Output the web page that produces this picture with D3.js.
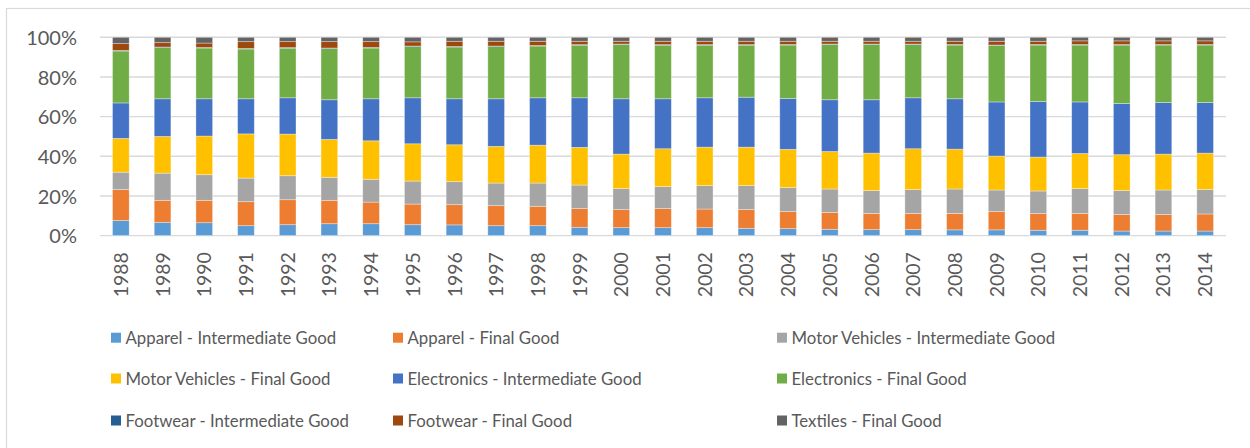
<!DOCTYPE html>
<html>
<head>
<meta charset="utf-8">
<script src="https://cdn.jsdelivr.net/npm/d3@7"></script>
<style>
  html, body { margin: 0; padding: 0; background: #fff; }
  svg { display: block; font-family: Lato, "Open Sans", sans-serif; }
</style>
</head>
<body>
<svg id="chart" width="1250" height="448"></svg>
<script>
const years = ["1988","1989","1990","1991","1992","1993","1994","1995","1996","1997","1998","1999","2000","2001","2002","2003","2004","2005","2006","2007","2008","2009","2010","2011","2012","2013","2014"];

const seriesNames = [
  "Apparel - Intermediate Good",
  "Apparel - Final Good",
  "Motor Vehicles - Intermediate Good",
  "Motor Vehicles - Final Good",
  "Electronics - Intermediate Good",
  "Electronics - Final Good",
  "Footwear - Intermediate Good",
  "Footwear - Final Good",
  "Textiles - Final Good"
];

const apparelIntermediate = [7.6,6.7,6.5,5.0,5.5,6.0,6.0,5.5,5.4,5.0,5.0,4.2,4.0,4.0,4.0,3.7,3.5,3.2,3.0,3.0,2.9,2.9,2.7,2.7,2.3,2.3,2.3];
const apparelFinal = [15.6,11.1,11.3,12.1,12.6,11.8,10.9,10.4,10.2,10.1,9.8,9.4,9.1,9.6,9.4,9.4,8.6,8.4,8.2,8.2,8.3,9.2,8.4,8.5,8.3,8.3,8.6];
const motorIntermediate = [8.8,13.7,12.9,11.9,12.1,11.6,11.5,11.6,11.6,11.4,11.7,11.9,10.6,11.1,11.8,12.1,12.1,11.9,11.5,12.0,12.3,10.9,11.4,12.5,12.1,12.4,12.4];
const motorFinal = [17.0,18.5,19.5,22.3,21.0,19.1,19.4,18.8,18.6,18.5,19.1,19.0,17.4,19.1,19.4,19.4,19.3,18.9,18.9,20.6,20.1,17.1,17.1,17.7,18.1,18.1,18.3];
const electronicsIntermediate = [17.9,19.0,18.8,17.7,18.3,20.0,21.2,23.2,23.2,24.0,23.9,25.0,27.9,25.2,24.9,25.2,25.6,26.1,26.9,25.7,25.4,27.3,28.0,26.0,25.8,26.0,25.5];
const electronicsFinal = [26.2,25.8,25.6,25.1,25.0,25.8,25.6,25.8,26.1,26.3,26.1,26.5,27.3,27.0,26.5,26.2,27.0,27.8,27.8,26.8,27.1,28.4,28.5,28.7,29.5,29.0,29.0];
const footwearIntermediate = [0.3,0.3,0.3,0.3,0.3,0.3,0.3,0.3,0.3,0.3,0.3,0.3,0.3,0.3,0.3,0.3,0.3,0.3,0.3,0.3,0.3,0.3,0.3,0.3,0.3,0.3,0.3];
const footwearFinal = [3.4,2.2,2.2,3.4,3.0,3.2,2.9,2.1,2.6,2.4,2.1,1.7,1.4,1.7,1.7,1.7,1.6,1.4,1.4,1.4,1.6,1.9,1.6,1.8,1.8,1.8,1.8];
const textilesFinal = [3.2,2.7,2.9,2.2,2.2,2.2,2.2,2.3,2.0,2.0,2.0,2.0,2.0,2.0,2.0,2.0,2.0,2.0,2.0,2.0,2.0,2.0,2.0,1.8,1.8,1.8,1.8];

const yTicks = [0, 0.2, 0.4, 0.6, 0.8, 1.0];
const colors = ["#5b9bd5","#ed7d31","#a5a5a5","#ffc000","#4472c4","#70ad47","#255e91","#9e480e","#636363"];

const seriesValues = [apparelIntermediate, apparelFinal, motorIntermediate, motorFinal, electronicsIntermediate, electronicsFinal, footwearIntermediate, footwearFinal, textilesFinal];

const table = years.map((y, i) => {
  const row = { year: y };
  seriesNames.forEach((s, k) => { row[s] = seriesValues[k][i]; });
  return row;
});

const svg = d3.select("#chart");

// outer frame
svg.append("rect")
  .attr("x", 6.5).attr("y", 8.5)
  .attr("width", 1300).attr("height", 500)
  .attr("fill", "none").attr("stroke", "#d9d9d9").attr("stroke-width", 1.2);

const plot = { left: 100, right: 1226, top: 37.3, bottom: 235.6 };

const x = d3.scaleBand().domain(years).range([plot.left, plot.right])
  .paddingInner(0.6).paddingOuter(0.3);
const y = d3.scaleLinear().domain([0, 1]).range([plot.bottom, plot.top]);
const color = d3.scaleOrdinal().domain(seriesNames).range(colors);

// gridlines
svg.append("g").selectAll("line").data(yTicks).join("line")
  .attr("x1", plot.left).attr("x2", plot.right)
  .attr("y1", d => y(d)).attr("y2", d => y(d))
  .attr("stroke", "#d9d9d9").attr("stroke-width", 1.4);

// y axis labels
const yAxis = d3.axisLeft(y).tickValues(yTicks).tickFormat(d3.format(".0%")).tickSize(0).tickPadding(0);
const yg = svg.append("g").attr("transform", `translate(77,0)`).call(yAxis);
yg.select(".domain").remove();
yg.selectAll("text").attr("font-size", 20).attr("fill", "#595959")
  .attr("font-family", "Lato, sans-serif").attr("dy", "0.36em");

// stacks
const stack = d3.stack().keys(seriesNames).offset(d3.stackOffsetExpand);
const layers = stack(table);

svg.append("g").selectAll("g").data(layers).join("g")
  .attr("fill", d => color(d.key))
  .selectAll("rect").data(d => d).join("rect")
  .attr("x", d => x(d.data.year))
  .attr("width", x.bandwidth())
  .attr("y", d => y(d[1]))
  .attr("height", d => Math.max(0, y(d[0]) - y(d[1])))
  .attr("stroke", "#ffffff").attr("stroke-opacity", 0.45).attr("stroke-width", 0.75);

// x axis labels
const xAxis = d3.axisBottom(x).tickSize(0).tickPadding(0);
const xg = svg.append("g").attr("transform", `translate(0,${plot.bottom})`).call(xAxis);
xg.select(".domain").remove();
xg.selectAll("text")
  .attr("font-size", 19.5).attr("fill", "#595959").attr("font-family", "Lato, sans-serif")
  .attr("transform", "rotate(-90)")
  .attr("text-anchor", "end")
  .attr("x", -16.5).attr("y", 0).attr("dy", "0.36em");

// legend
const legendCols = [111, 393, 777];
const legendRows = [337.7, 378.5, 420.5];
const legend = svg.append("g").selectAll("g").data(seriesNames).join("g")
  .attr("transform", (d, i) => `translate(${legendCols[i % 3]},${legendRows[Math.floor(i / 3)]})`);
legend.append("rect").attr("x", 0).attr("y", -5).attr("width", 10).attr("height", 10)
  .attr("fill", d => color(d));
legend.append("text").attr("x", 14.5).attr("y", 0).attr("dy", "0.36em")
  .attr("font-size", 16.8).attr("fill", "#595959").attr("font-family", "Lato, sans-serif")
  .text(d => d);
</script>
</body>
</html>
